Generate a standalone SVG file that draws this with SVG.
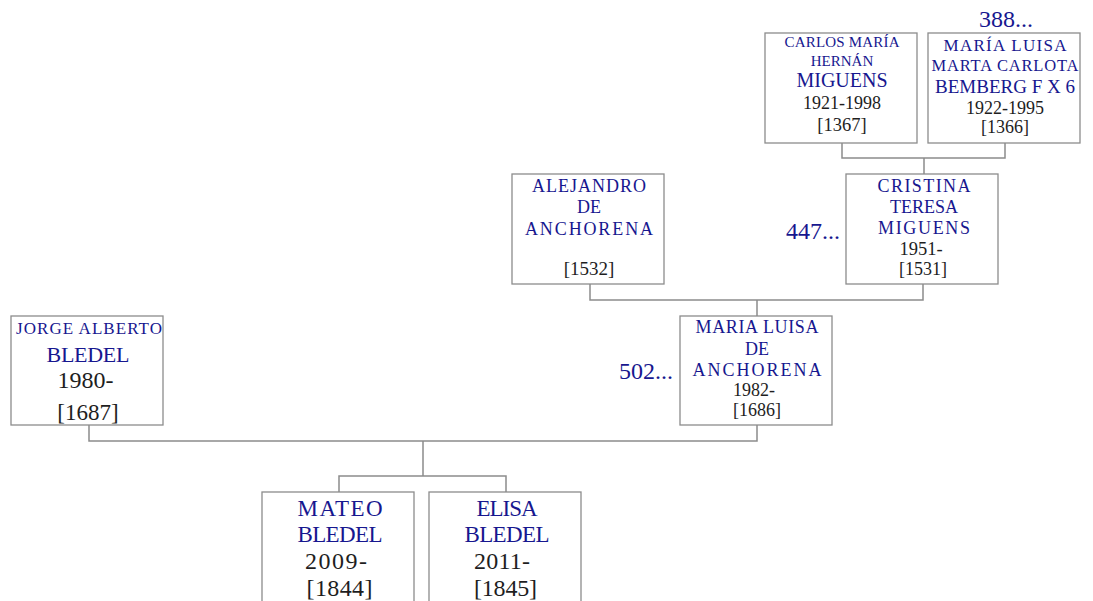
<svg xmlns="http://www.w3.org/2000/svg" width="1093" height="601" viewBox="0 0 1093 601">
<style>
.box{fill:#fff;stroke:#8c8c8c;stroke-width:1.3}
.con{fill:none;stroke:#8c8c8c;stroke-width:1.5}
text{font-family:"Liberation Serif","DejaVu Serif",serif;text-anchor:middle}
.n{fill:#17178f}
.d{fill:#1e1e1e}
.more{fill:#17178f;font-size:24px;text-anchor:end}
</style>
<rect width="1093" height="601" fill="#fff"/>
<g id="connectors">
<path class="con" d="M842,143 V158 H1005 V143 M924,158 V174"/>
<path class="con" d="M590,284 V300 H923 V284 M757,300 V316"/>
<path class="con" d="M89,425 V441 H757 V425 M423,441 V476 M339,492 V476 H506 V492"/>
</g>
<g id="carlos">
<rect class="box" x="765" y="33" width="152" height="110"/>
<text class="n" x="842" y="47" font-size="15" textLength="115">CARLOS MARÍA</text>
<text class="n" x="842" y="66" font-size="15">HERNÁN</text>
<text class="n" x="842" y="87" font-size="20" textLength="91">MIGUENS</text>
<text class="d" x="842" y="109" font-size="18">1921-1998</text>
<text class="d" x="842" y="131" font-size="18.5">[1367]</text>
</g>
<g id="bemberg">
<text class="more" x="1033" y="27">388...</text>
<rect class="box" x="928" y="33" width="152" height="110"/>
<text class="n" x="1005" y="51" font-size="17" textLength="123">MARÍA LUISA</text>
<text class="n" x="1005" y="71" font-size="16.5" textLength="147">MARTA CARLOTA</text>
<text class="n" x="1005" y="93" font-size="19" textLength="140">BEMBERG F X 6</text>
<text class="d" x="1005" y="114" font-size="18">1922-1995</text>
<text class="d" x="1005" y="133" font-size="18">[1366]</text>
</g>
<g id="alejandro">
<rect class="box" x="512" y="174" width="152" height="110"/>
<text class="n" x="589" y="192" font-size="18" textLength="114">ALEJANDRO</text>
<text class="n" x="589" y="213" font-size="18">DE</text>
<text class="n" x="589" y="235" font-size="18" textLength="128">ANCHORENA</text>
<text class="d" x="589" y="275" font-size="19">[1532]</text>
</g>
<g id="cristina">
<text class="more" x="840" y="239">447...</text>
<rect class="box" x="846" y="174" width="152" height="110"/>
<text class="n" x="924" y="192" font-size="18" textLength="93">CRISTINA</text>
<text class="n" x="924" y="213" font-size="18">TERESA</text>
<text class="n" x="924" y="234" font-size="18" textLength="92">MIGUENS</text>
<text class="d" x="921" y="255" font-size="18.5">1951-</text>
<text class="d" x="923" y="275" font-size="18">[1531]</text>
</g>
<g id="marialuisa">
<text class="more" x="673" y="379">502...</text>
<rect class="box" x="680" y="316" width="152" height="109"/>
<text class="n" x="757" y="333" font-size="18" textLength="123">MARIA LUISA</text>
<text class="n" x="757" y="355" font-size="18">DE</text>
<text class="n" x="757" y="376" font-size="18" textLength="129">ANCHORENA</text>
<text class="d" x="754" y="396" font-size="18">1982-</text>
<text class="d" x="757" y="416" font-size="18">[1686]</text>
</g>
<g id="jorge">
<rect class="box" x="11" y="316" width="152" height="109"/>
<text class="n" x="89" y="334" font-size="17" textLength="146">JORGE ALBERTO</text>
<text class="n" x="88" y="362" font-size="22" textLength="83">BLEDEL</text>
<text class="d" x="85.5" y="388" font-size="24">1980-</text>
<text class="d" x="88" y="420" font-size="23">[1687]</text>
</g>
<g id="mateo">
<rect class="box" x="262" y="492" width="152" height="112"/>
<text class="n" x="340" y="516" font-size="23" textLength="85">MATEO</text>
<text class="n" x="340" y="542" font-size="23" textLength="85">BLEDEL</text>
<text class="d" x="336" y="569" font-size="24" textLength="62">2009-</text>
<text class="d" x="339.5" y="596" font-size="24" textLength="66">[1844]</text>
</g>
<g id="elisa">
<rect class="box" x="429" y="492" width="152" height="112"/>
<text class="n" x="507" y="516" font-size="23" textLength="61">ELISA</text>
<text class="n" x="507" y="542" font-size="23" textLength="85">BLEDEL</text>
<text class="d" x="502" y="569" font-size="24" textLength="56">2011-</text>
<text class="d" x="505.5" y="596" font-size="24" textLength="63">[1845]</text>
</g>
</svg>
